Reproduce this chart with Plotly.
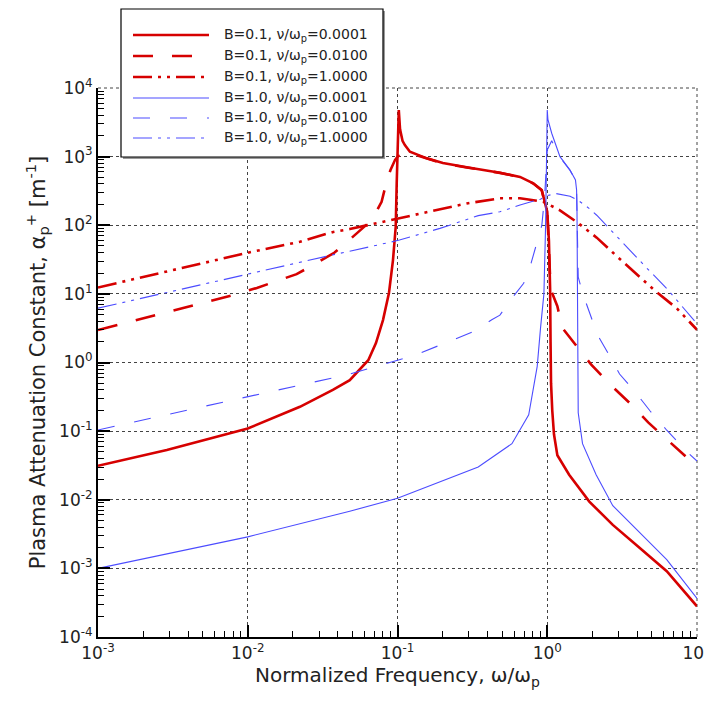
import plotly.graph_objects as go

# ---------------- data ----------------
labels = [
    "B=0.1, ν/ω<sub>p</sub>=0.0001",
    "B=0.1, ν/ω<sub>p</sub>=0.0100",
    "B=0.1, ν/ω<sub>p</sub>=1.0000",
    "B=1.0, ν/ω<sub>p</sub>=0.0001",
    "B=1.0, ν/ω<sub>p</sub>=0.0100",
    "B=1.0, ν/ω<sub>p</sub>=1.0000",
]

# B=0.1, nu=0.0001
x_r1 = [0.001, 0.00288, 0.01, 0.0223, 0.037, 0.048, 0.0638, 0.0718, 0.080, 0.0877, 0.0933,
        0.0973, 0.0988, 0.1005, 0.102, 0.104, 0.108, 0.112, 0.121, 0.157, 0.201, 0.29, 0.483,
        0.658, 0.807, 0.918, 0.958, 1.0, 1.026, 1.045, 1.052, 1.06, 1.08, 1.109, 1.168, 1.40,
        1.91, 2.74, 4.15, 6.28, 10.0]
y_r1 = [0.0312, 0.053, 0.109, 0.226, 0.40, 0.554, 1.08, 1.92, 4.15, 10.3, 31.1,
        95, 412, 2000, 4770, 2500, 1700, 1476, 1178, 944, 807, 698, 583,
        506, 408, 326, 233, 157, 60, 12, 2.0, 0.5, 0.2, 0.09, 0.0445, 0.0232,
        0.0094, 0.0043, 0.00198, 0.00091, 0.00028]

# B=0.1, nu=0.01
x_r2 = [0.001, 0.008, 0.0115, 0.0212, 0.0273, 0.038, 0.048, 0.0673, 0.0783, 0.0851, 0.0898,
        0.0962, 0.1, 0.106, 0.112, 0.121, 0.157, 0.201, 0.29, 0.483, 0.658, 0.807, 0.918,
        0.958, 1.0, 1.026, 1.053, 1.168, 1.26, 1.55, 1.96, 2.6, 3.55, 4.72, 6.6, 8.8, 10.0]
y_r2 = [2.97, 9.6, 12.2, 19.4, 26.3, 40, 62, 119, 220, 456, 638,
        891, 1000, 1080, 1150, 1120, 930, 800, 695, 580, 504, 406, 324,
        232, 156, 45, 11.7, 6.6, 3.2, 1.8, 0.94, 0.49, 0.257, 0.134, 0.07, 0.039, 0.03]

# B=0.1, nu=1.0
x_r3 = [0.001, 0.01, 0.0223, 0.0372, 0.048, 0.0726, 0.134, 0.29, 0.483, 0.658, 0.94,
        1.216, 1.57, 2.14, 2.74, 3.55, 5.1, 7.33, 10.0]
y_r3 = [12.4, 39.8, 57.5, 80, 88, 107, 146, 208, 247, 247, 220,
        165, 112, 66, 40, 24, 11.7, 6.15, 3.0]

# B=1.0, nu=0.0001
x_b1 = [0.001, 0.01, 0.048, 0.1, 0.346, 0.581, 0.752, 0.857, 0.902, 0.95, 0.975, 0.99,
        1.0, 1.01, 1.071, 1.216, 1.419, 1.543, 1.57, 1.58, 1.59, 1.6, 1.61, 1.72, 2.12,
        2.74, 4.15, 6.28, 10.0]
y_b1 = [0.001, 0.00288, 0.0068, 0.0105, 0.030, 0.0656, 0.173, 0.88, 3.2, 10, 100, 700,
        4770, 3500, 2190, 1000, 638, 456, 326, 157, 11.7, 1.0, 0.185, 0.0656, 0.0232,
        0.0082, 0.0033, 0.00134, 0.000366]

# B=1.0, nu=0.01
x_b2 = [0.001, 0.01, 0.048, 0.131, 0.319, 0.426, 0.483, 0.566, 0.696, 0.78, 0.87, 0.92,
        0.96, 0.98, 1.0, 1.071, 1.216, 1.419, 1.543, 1.57, 1.585, 1.61, 1.72, 1.91, 2.17,
        2.54, 3.04, 3.84, 4.85, 6.28, 8.57, 10.0]
y_b2 = [0.104, 0.316, 0.678, 1.28, 2.8, 4.2, 4.9, 8.0, 14.3, 28, 68, 100,
        258, 700, 1250, 1700, 980, 630, 450, 320, 85, 17.6, 10.3, 5.4, 2.5,
        1.38, 0.68, 0.38, 0.198, 0.103, 0.05, 0.0366]

# B=1.0, nu=1.0
x_b3 = [0.001, 0.01, 0.0223, 0.0382, 0.0655, 0.103, 0.192, 0.346, 0.483, 0.658, 0.9,
        1.0, 1.14, 1.42, 1.6, 1.91, 2.14, 2.47, 3.2, 4.6, 6.28, 10.0]
y_b3 = [6.2, 19.4, 29.4, 37.6, 48.6, 60.8, 90, 138, 157, 197, 240,
        270, 290, 265, 233, 175, 140, 100, 55, 24, 12, 3.66]

x_tickvals = [0.001, 0.01, 0.1, 1, 10]
x_ticktext = ["10<sup>-3</sup>", "10<sup>-2</sup>", "10<sup>-1</sup>", "10<sup>0</sup>", "10<sup>1</sup>"]
y_tickvals = [1e-4, 1e-3, 1e-2, 1e-1, 1, 10, 100, 1000, 10000]
y_ticktext = ["10<sup>-4</sup>", "10<sup>-3</sup>", "10<sup>-2</sup>", "10<sup>-1</sup>",
              "10<sup>0</sup>", "10<sup>1</sup>", "10<sup>2</sup>", "10<sup>3</sup>", "10<sup>4</sup>"]

# minor tick positions (2..9 within each decade)
x_minor = [m * 10.0 ** k for k in range(-3, 1) for m in range(2, 10)]
y_minor = [m * 10.0 ** k for k in range(-4, 4) for m in range(2, 10)]

# ---------------- styles ----------------
RED = "rgb(214,0,0)"
BLUE = "rgb(76,76,255)"
styles = [
    dict(color=RED, width=2.6, dash="solid"),
    dict(color=RED, width=2.6, dash="20px,19px"),
    dict(color=RED, width=2.6, dash="19px,6px,3px,6px,3px,6px"),
    dict(color=BLUE, width=1.1, dash="solid"),
    dict(color=BLUE, width=1.1, dash="17px,20px"),
    dict(color=BLUE, width=1.1, dash="19px,6px,3px,6px,3px,6px"),
]
series = [(x_r1, y_r1), (x_r2, y_r2), (x_r3, y_r3), (x_b1, y_b1), (x_b2, y_b2), (x_b3, y_b3)]

# page has an 8px body margin -> figure is offset by (8, 8) in the screenshot
OFF = 8
W, H = 712 - OFF, 705 - OFF
L, R, T, B = 98, 697, 88, 637  # plot area in screenshot pixels
FONT = "DejaVu Sans, Verdana, sans-serif"
TXT = "#222222"


def px(xp):
    return (xp - L) / (R - L)


def py(yp):
    return (B - yp) / (B - T)


fig = go.Figure()
for (xs, ys), st, lab in zip(series, styles, labels):
    fig.add_trace(go.Scatter(x=xs, y=ys, mode="lines", line=st, name=lab,
                             showlegend=False))

shapes = []
annotations = []
# dotted frame on top and right edges (grid lines at 10^4 and 10^1)
shapes.append(dict(type="line", xref="paper", yref="paper", x0=0, x1=1, y0=1, y1=1,
                   line=dict(color="#444444", width=1, dash="dot"), layer="below"))
shapes.append(dict(type="line", xref="paper", yref="paper", x0=1, x1=1, y0=0, y1=1,
                   line=dict(color="#444444", width=1, dash="dot"), layer="below"))

# ---------------- manual legend ----------------
box_l, box_r, box_t, box_b = 121, 383, 9, 157
shapes.append(dict(type="rect", xref="paper", yref="paper",
                   x0=px(box_l + 2), x1=px(box_r + 2), y0=py(box_b + 2), y1=py(box_t + 2),
                   line=dict(width=0), fillcolor="#9a9a9a", layer="above"))
shapes.append(dict(type="rect", xref="paper", yref="paper",
                   x0=px(box_l), x1=px(box_r), y0=py(box_b), y1=py(box_t),
                   line=dict(color="black", width=1.2), fillcolor="white", layer="above"))
row_y = [35, 56, 77, 98, 118, 138]
for i, (st, lab) in enumerate(zip(styles, labels)):
    yy = py(row_y[i])
    shapes.append(dict(type="line", xref="paper", yref="paper",
                       x0=px(133), x1=px(209), y0=yy, y1=yy,
                       line=dict(color=st["color"], width=st["width"], dash=st["dash"]),
                       layer="above"))
    annotations.append(dict(xref="paper", yref="paper", x=px(222), y=yy,
                            xanchor="left", yanchor="middle", showarrow=False,
                            text=lab, font=dict(family=FONT, size=14, color=TXT)))

axis_common = dict(
    type="log", showline=True, linecolor="black", linewidth=2,
    ticks="inside", ticklen=12, tickwidth=2, tickcolor="black",
    showgrid=True, gridcolor="#444444", gridwidth=1, griddash="dot",
    zeroline=False, mirror=False,
    tickfont=dict(family=FONT, size=17, color=TXT),
)

fig.update_layout(
    width=W, height=H,
    margin=dict(l=L - OFF, r=712 - R, t=T - OFF, b=705 - B, autoexpand=False),
    paper_bgcolor="white", plot_bgcolor="white",
    xaxis=dict(axis_common, range=[-3, 1], tickmode="array", tickvals=x_tickvals,
               ticktext=x_ticktext,
               minor=dict(tickmode="array", tickvals=x_minor, ticks="inside", ticklen=6,
                          tickwidth=1, tickcolor="black", showgrid=False),
               title=dict(text="Normalized Frequency, ω/ω<sub>p</sub>",
                          font=dict(family=FONT, size=20, color=TXT), standoff=6)),
    yaxis=dict(axis_common, range=[-4, 4], tickmode="array", tickvals=y_tickvals,
               ticktext=y_ticktext,
               minor=dict(tickmode="array", tickvals=y_minor, ticks="inside", ticklen=6,
                          tickwidth=1, tickcolor="black", showgrid=False),
               title=dict(text="Plasma Attenuation Constant, α<sub>p</sub><sup>+</sup> [m<sup>-1</sup>]",
                          font=dict(family=FONT, size=21, color=TXT), standoff=8)),
    shapes=shapes, annotations=annotations,
    showlegend=False,
)

fig.write_html("out.html")
